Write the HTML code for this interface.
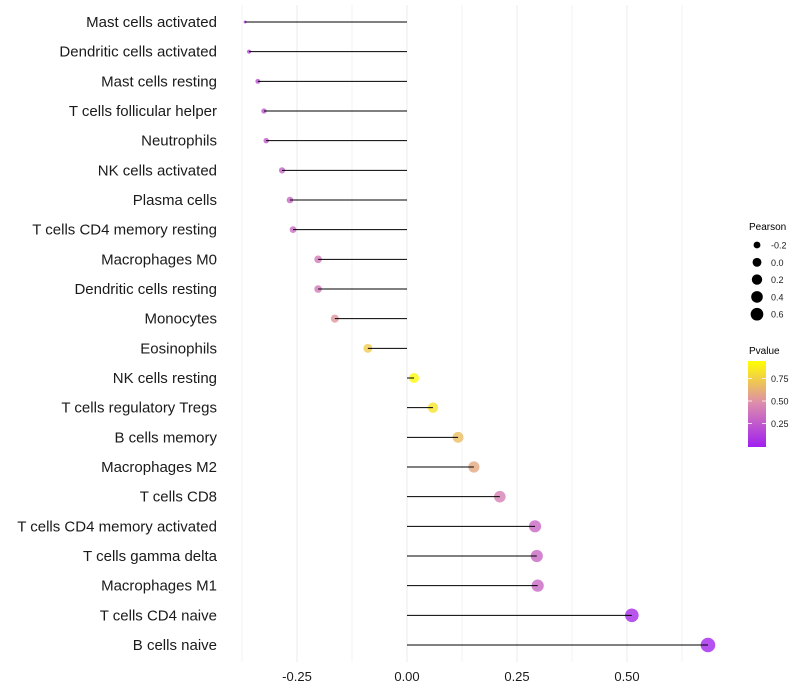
<!DOCTYPE html>
<html><head><meta charset="utf-8"><style>
html,body{margin:0;padding:0;background:#fff;}
svg{display:block;font-family:"Liberation Sans",sans-serif;}
</style></head><body>
<svg id="chart" width="800" height="700">
<defs><linearGradient id="pg" x1="0" y1="1" x2="0" y2="0">
<stop offset="0" stop-color="#a020f0"/><stop offset="0.5" stop-color="#dc8aae"/><stop offset="1" stop-color="#ffff00"/>
</linearGradient></defs>
<g id="grid"></g><g id="marks"></g><g id="labels"></g><g id="ticks"></g>
<g>
<text x="749" y="230" font-size="10">Pearson</text>
<g id="sizeleg"></g>
<text x="749" y="354" font-size="10">Pvalue</text>
<rect x="748" y="361" width="18" height="86" fill="url(#pg)"/>
<g id="colleg"></g>
</g>
</svg>
<script>
const categories=["Mast cells activated","Dendritic cells activated","Mast cells resting","T cells follicular helper","Neutrophils","NK cells activated","Plasma cells","T cells CD4 memory resting","Macrophages M0","Dendritic cells resting","Monocytes","Eosinophils","NK cells resting","T cells regulatory  Tregs ","B cells memory","Macrophages M2","T cells CD8","T cells CD4 memory activated","T cells gamma delta","Macrophages M1","T cells CD4 naive","B cells naive"];
const pearson=[-0.368,-0.359,-0.339,-0.325,-0.320,-0.284,-0.266,-0.259,-0.202,-0.202,-0.164,-0.089,0.016,0.059,0.116,0.152,0.211,0.291,0.295,0.297,0.511,0.684];
const pvalue=[0.15,0.18,0.22,0.25,0.27,0.30,0.33,0.35,0.42,0.42,0.55,0.78,0.97,0.88,0.72,0.63,0.45,0.33,0.33,0.33,0.05,0.02];
const xTicks=[-0.25,0,0.25,0.5];
const xTickLabels=["-0.25","0.00","0.25","0.50"];
const sizeLegend=[-0.2,0,0.2,0.4,0.6];
const sizeLegendLabels=["-0.2","0.0","0.2","0.4","0.6"];
const colorTicks=[0.25,0.5,0.75];
const colorTickLabels=["0.25","0.50","0.75"];

const NS="http://www.w3.org/2000/svg";
const xs=v=>407+v*440;
const ys=i=>22+i*(623/21);
const rs=v=>1.5+5.8*Math.sqrt(Math.max(0,(v+0.368)/1.052));
function lerp(a,b,t){return Math.round(a+(b-a)*t);}
function col(p){const s=[[160,32,240],[220,138,174],[255,255,0]];let t=Math.max(0,Math.min(1,p));let a,b,u;if(t<0.5){a=s[0];b=s[1];u=t/0.5;}else{a=s[1];b=s[2];u=(t-0.5)/0.5;}return `rgb(${lerp(a[0],b[0],u)},${lerp(a[1],b[1],u)},${lerp(a[2],b[2],u)})`;}
function mk(tag,attrs,parent){const e=document.createElementNS(NS,tag);for(const k in attrs)e.setAttribute(k,attrs[k]);document.getElementById(parent).appendChild(e);return e;}

for(let v=-0.375;v<=0.626;v+=0.125){
 const g=mk('line',{x1:xs(v),x2:xs(v),y1:5,y2:662,stroke:'#ebebeb','stroke-width':Math.abs((v/0.25)-Math.round(v/0.25))<1e-6?1:0.6},'grid');
 
 
}
categories.forEach((c,i)=>{
 const y=ys(i),v=pearson[i];
 const pt=mk('circle',{cx:xs(v),cy:y,r:rs(v),fill:col(pvalue[i]),'fill-opacity':0.8},'marks');
 
 
 const ln=mk('line',{x1:xs(0),x2:xs(v),y1:y,y2:y,stroke:'#000','stroke-width':1},'marks');
 
 
 const t=mk('text',{x:217,y:y+5,'text-anchor':'end','font-size':15,fill:'#1a1a1a','xml:space':'preserve'},'labels');
 t.textContent=c;
 
 
});
xTicks.forEach((v,i)=>{
 const t=mk('text',{x:xs(v),y:681,'text-anchor':'middle','font-size':13,fill:'#1a1a1a'},'ticks');
 t.textContent=xTickLabels[i];
 
 
});
sizeLegend.forEach((v,i)=>{
 const y=245+i*17.3;
 const c=mk('circle',{cx:757,cy:y,r:rs(v)*0.9,fill:'#000'},'sizeleg');
 
 
 const t=mk('text',{x:771,y:y+3.5,'font-size':9,fill:'#1a1a1a'},'sizeleg');
 t.textContent=sizeLegendLabels[i];
 
 
});
colorTicks.forEach((v,i)=>{
 const y=446-v*90;
 const l=mk('line',{x1:748,x2:752,y1:y,y2:y,stroke:'#fff','stroke-width':0.8},'colleg');
 
 
 const l2=mk('line',{x1:762,x2:766,y1:y,y2:y,stroke:'#fff','stroke-width':0.8},'colleg');
 
 
 const t=mk('text',{x:771,y:y+3.5,'font-size':9,fill:'#1a1a1a'},'colleg');
 t.textContent=colorTickLabels[i];
 
 
});
</script>
</body></html>
